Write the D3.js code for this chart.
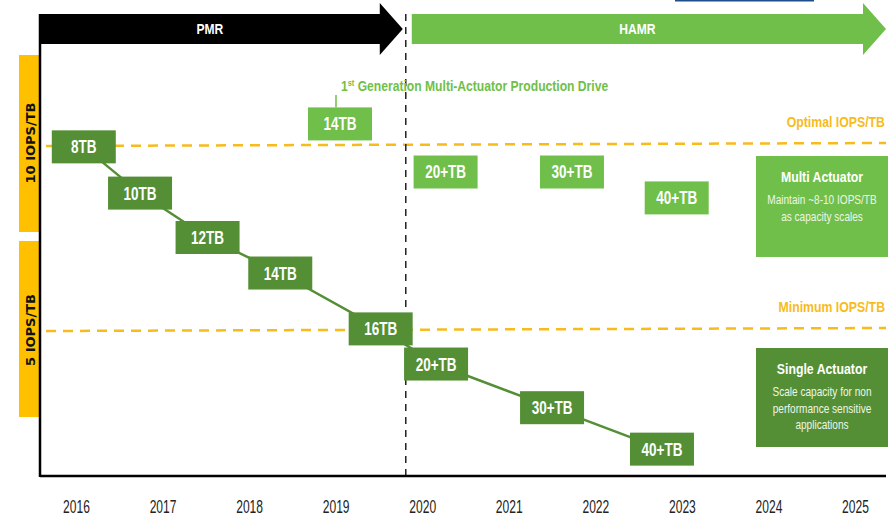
<!DOCTYPE html>
<html>
<head>
<meta charset="utf-8">
<script src="https://cdn.jsdelivr.net/npm/d3@7"></script>
<style>
  body { margin: 0; background: #fff; }
  svg { display: block; }
</style>
</head>
<body>
<script>
// year ticks along the bottom
var years = [2016, 2017, 2018, 2019, 2020, 2021, 2022, 2023, 2024, 2025];

// single actuator roadmap (year position, IOPS/TB)
var singleLabels = ["8TB", "10TB", "12TB", "14TB", "16TB", "20+TB", "30+TB", "40+TB"];
var singleYear   = [2016.09, 2016.74, 2017.52, 2018.36, 2019.52, 2020.16, 2021.50, 2022.77];
var singleIops   = [9.95, 8.7, 7.5, 6.54, 5.03, 4.08, 2.9, 1.78];

// multi actuator roadmap
var multiLabels = ["14TB", "20+TB", "30+TB", "40+TB"];
var multiYear   = [2019.05, 2020.27, 2021.73, 2022.94];
var multiIops   = [10.57, 9.27, 9.27, 8.57];

// thresholds
var thresholdNames = ["Optimal IOPS/TB", "Minimum IOPS/TB"];
var thresholdVals  = [10, 5];

var techNames = ["PMR", "HAMR"];
var transitionYear = 2019.81;

var width = 889, height = 516;
var darkGreen = "#548f35", lightGreen = "#70bf4a", orange = "#ffc000", lineOrange = "#f7bb1c";
var sans = "'Liberation Sans', Arial, sans-serif";
var squeeze = 0.82; // fake a narrow face

var x = d3.scaleLinear().domain([2016, 2025]).range([76, 855]);
var y = d3.scaleLinear().domain([5, 10]).range([330, 145]);

var svg = d3.select("body").append("svg")
    .attr("width", width)
    .attr("height", height);

// narrow text: translate to the point, then squeeze horizontally
function ntext(sel, px, py, size, bold, fill, anchor, sq) {
  return sel.append("text")
      .attr("transform", "translate(" + px + "," + py + ") scale(" + (sq || squeeze) + ",1)")
      .attr("text-anchor", anchor || "middle")
      .attr("font-family", sans)
      .attr("font-weight", bold ? "bold" : "normal")
      .attr("font-size", size)
      .attr("fill", fill);
}

var axisLeft = 40, axisBottom = 476, axisTop = 14, axisRight = 886;

// left orange IOPS bands
var bands = [
  {label: "10 IOPS/TB", y0: 55, y1: 232},
  {label: "5 IOPS/TB", y0: 241, y1: 417}
];
svg.selectAll(".band").data(bands).enter().append("rect")
    .attr("x", 19).attr("width", axisLeft - 19)
    .attr("y", function(d) { return d.y0; })
    .attr("height", function(d) { return d.y1 - d.y0; })
    .attr("fill", orange);
svg.selectAll(".bandText").data(bands).enter().append("text")
    .attr("transform", function(d, i) {
      var cy = i == 0 ? 143 : 330;
      return "translate(35," + cy + ") rotate(-90)";
    })
    .attr("text-anchor", "middle")
    .attr("font-family", "'DejaVu Sans', sans-serif")
    .attr("font-weight", "bold")
    .attr("font-size", 13)
    .attr("fill", "#111")
    .text(function(d) { return d.label; });

// threshold dashed lines
thresholdVals.forEach(function(v, i) {
  svg.append("line")
      .attr("x1", axisLeft + 6).attr("x2", axisRight)
      .attr("y1", y(v) + 1).attr("y2", y(v) - 2)
      .attr("stroke", lineOrange)
      .attr("stroke-width", 2.5)
      .attr("stroke-dasharray", "10,7");
  ntext(svg, 885, y(v) - 18, 15, true, lineOrange, "end").text(thresholdNames[i]);
});

// transition dashed line
svg.append("line")
    .attr("x1", x(transitionYear)).attr("x2", x(transitionYear))
    .attr("y1", axisTop).attr("y2", axisBottom)
    .attr("stroke", "#222")
    .attr("stroke-width", 1.5)
    .attr("stroke-dasharray", "7,6");

// technology arrows
function arrow(x0, x1, fill, label) {
  var headLen = 23, top = 14, bot = 44, mid = 29;
  var p = d3.path();
  p.moveTo(x0, top);
  p.lineTo(x1 - headLen, top);
  p.lineTo(x1 - headLen, 3);
  p.lineTo(x1, mid);
  p.lineTo(x1 - headLen, 55);
  p.lineTo(x1 - headLen, bot);
  p.lineTo(x0, bot);
  p.closePath();
  svg.append("path").attr("d", p.toString()).attr("fill", fill);
  ntext(svg, x0 + (x1 - headLen - x0) / 2, mid + 5, 15.5, true, "#fff", "middle", 0.78).text(label);
}
arrow(axisLeft, x(transitionYear) - 3, "#000", techNames[0]);
arrow(x(transitionYear) + 6, axisRight, lightGreen, techNames[1]);

// small blue strip at top edge
svg.append("rect").attr("x", 675).attr("y", 0).attr("width", 139).attr("height", 1.5).attr("fill", "#1f4e8c");

// axes lines
svg.append("line")
    .attr("x1", axisLeft).attr("x2", axisLeft)
    .attr("y1", axisTop).attr("y2", axisBottom + 1)
    .attr("stroke", "#000").attr("stroke-width", 2.5);
svg.append("line")
    .attr("x1", axisLeft).attr("x2", axisRight)
    .attr("y1", axisBottom).attr("y2", axisBottom)
    .attr("stroke", "#000").attr("stroke-width", 2.5);

// year labels
var xAxis = d3.axisBottom(x).tickValues(years).tickFormat(d3.format("d")).tickSize(0).tickPadding(0);
var gx = svg.append("g").attr("transform", "translate(0,500)").call(xAxis);
gx.select(".domain").remove();
gx.selectAll("text")
    .attr("transform", "scale(0.67,1)")
    .attr("font-family", sans)
    .attr("font-size", 18)
    .attr("fill", "#222");

// single actuator connecting line
var single = singleLabels.map(function(l, i) { return {label: l, year: singleYear[i], iops: singleIops[i]}; });
var multi = multiLabels.map(function(l, i) { return {label: l, year: multiYear[i], iops: multiIops[i]}; });

var line = d3.line()
    .x(function(d) { return x(d.year); })
    .y(function(d) { return y(d.iops); });
svg.append("path")
    .datum(single)
    .attr("d", line)
    .attr("fill", "none")
    .attr("stroke", darkGreen)
    .attr("stroke-width", 2.5);

var bw = 64, bh = 33;
function boxes(data, fill) {
  var g = svg.append("g").selectAll("g").data(data).enter().append("g")
      .attr("transform", function(d) { return "translate(" + x(d.year) + "," + y(d.iops) + ")"; });
  g.append("rect")
      .attr("x", -bw / 2).attr("y", -bh / 2)
      .attr("width", bw).attr("height", bh)
      .attr("fill", fill);
  g.append("text")
      .attr("transform", "scale(0.75,1)")
      .attr("text-anchor", "middle")
      .attr("dy", "0.36em")
      .attr("font-family", sans)
      .attr("font-weight", "bold")
      .attr("font-size", 18)
      .attr("fill", "#fff")
      .text(function(d) { return d.label; });
}
boxes(single, darkGreen);

// callout for first multi actuator drive
var first = multi[0];
svg.append("line")
    .attr("x1", x(first.year) - 4).attr("x2", x(first.year) - 4)
    .attr("y1", 95).attr("y2", y(first.iops) - bh / 2)
    .attr("stroke", lightGreen).attr("stroke-width", 1.5);
var note = ntext(svg, 341, 91, 14.8, true, lightGreen, "start");
note.append("tspan").text("1");
note.append("tspan").attr("font-size", 9).attr("dy", -5).text("st");
note.append("tspan").attr("dy", 5).text(" Generation Multi-Actuator Production Drive");

boxes(multi, lightGreen);

// legend boxes on the right
var legend = [
  {title: "Multi Actuator", lines: ["Maintain ~8-10 IOPS/TB", "as capacity scales"], y0: 156, h: 101, fill: lightGreen},
  {title: "Single Actuator", lines: ["Scale capacity for non", "performance sensitive", "applications"], y0: 348, h: 99, fill: darkGreen}
];
legend.forEach(function(d) {
  var g = svg.append("g").attr("transform", "translate(756," + d.y0 + ")");
  g.append("rect")
      .attr("width", 132)
      .attr("height", d.h)
      .attr("fill", d.fill);
  ntext(g, 66, 26, 15, true, "#fff").text(d.title);
  d.lines.forEach(function(l, i) {
    ntext(g, 66, 48 + i * 16.5, 12.3, false, "#eef6e8").text(l);
  });
});
</script>
</body>
</html>
